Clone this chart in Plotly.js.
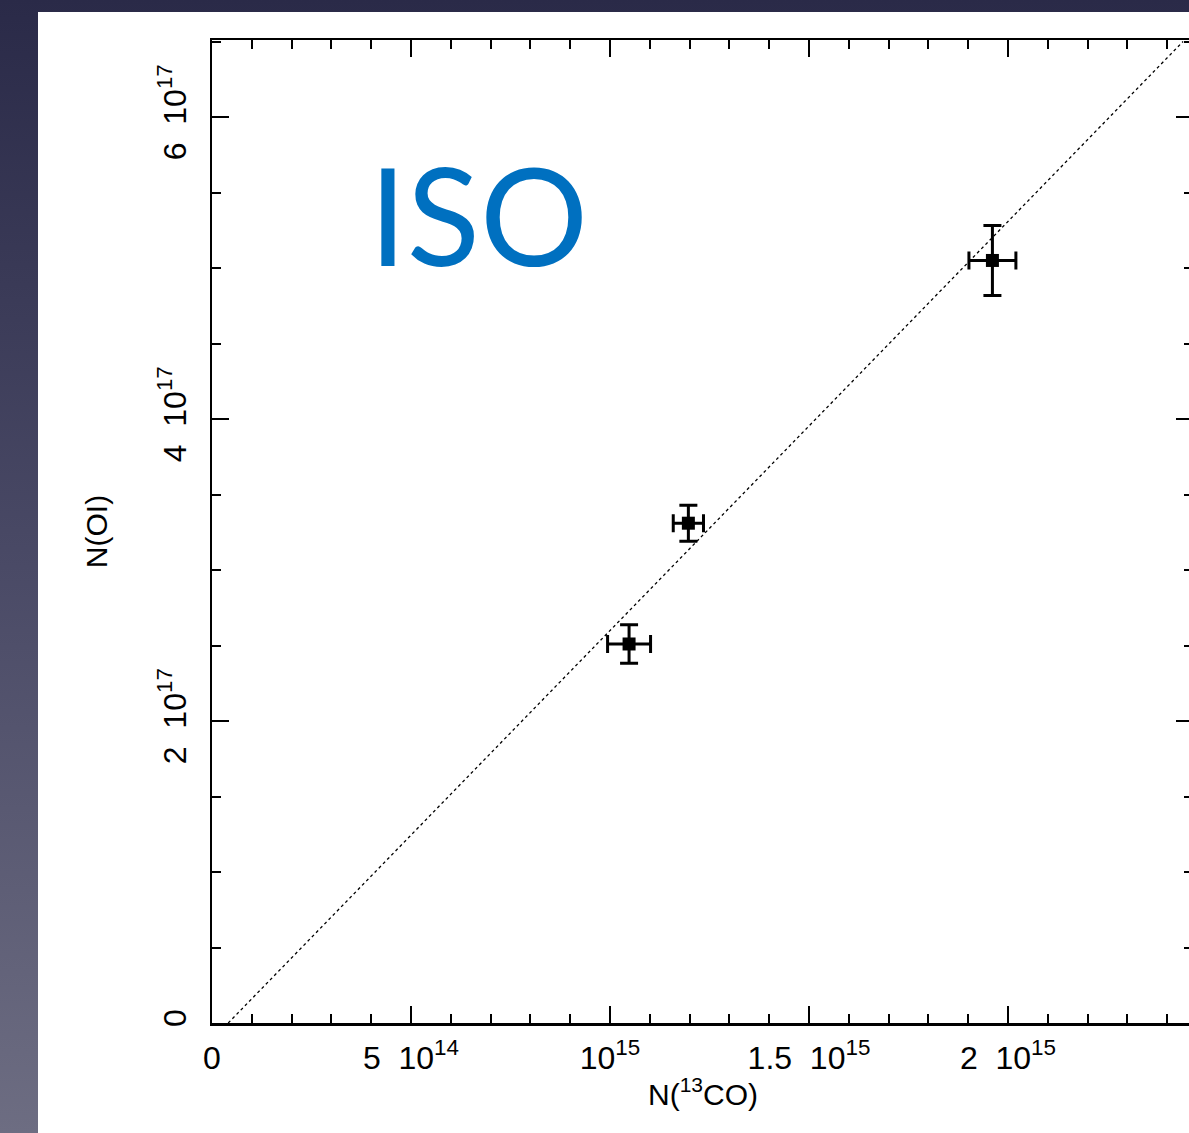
<!DOCTYPE html>
<html>
<head>
<meta charset="utf-8">
<script src="https://cdn.plot.ly/plotly-3.0.1.min.js"></script>
<style>
  html, body { margin: 0; padding: 0; width: 1189px; height: 1133px; overflow: hidden;
    background: linear-gradient(to bottom, #2a2a48 0%, #4a4a66 50%, #6d6d82 100%); }
  #panel { position: absolute; left: 38px; top: 12px; width: 1200px; height: 1121px; background: #ffffff; }
  #chart { position: absolute; left: 0; top: 0; width: 1200px; height: 1121px; }
</style>
</head>
<body>
<div id="panel"><div id="chart"></div></div>
<script>
// Data
const n13co      = [1.048e15, 1.197e15, 1.961e15];   // N(13CO)
const n13coErr   = [0.054e15, 0.038e15, 0.059e15];
const nOI        = [2.51e17, 3.31e17, 5.05e17];     // N(OI)
const nOIErr     = [1.28e16, 1.19e16, 2.32e16];

// dotted relation line
const fitX = [0.0407e15, 2.44e15];
const fitY = [0, 6.50e17];

// tick values and labels
const xTickVals = [0, 5e14, 1e15, 1.5e15, 2e15];
const xTickText = ['0', '5\u00A0\u00A010<sup>14</sup>', '10<sup>15</sup>', '1.5\u00A0\u00A010<sup>15</sup>', '2\u00A0\u00A010<sup>15</sup>'];
const yTickVals = [0, 2e17, 4e17, 6e17];
const yTickText = ['0', '2\u00A0\u00A010<sup>17</sup>', '4\u00A0\u00A010<sup>17</sup>', '6\u00A0\u00A010<sup>17</sup>'];
const xTitle = 'N(<sup>13</sup>CO)';
const yTitle = 'N(OI)';

const font = {family: 'Liberation Sans, Arial, sans-serif', size: 32, color: '#000'};
const titleFont = {family: 'Liberation Sans, Arial, sans-serif', size: 30, color: '#000'};

const traces = [
  {
    x: fitX, y: fitY, mode: 'lines', type: 'scatter',
    line: {color: '#000', width: 1.3, dash: 'dot'}, hoverinfo: 'skip', showlegend: false
  },
  {
    x: n13co, y: nOI, mode: 'markers', type: 'scatter',
    marker: {symbol: 'square', size: 13, color: '#000'},
    error_x: {type: 'data', array: n13coErr, visible: true, color: '#000', thickness: 3, width: 9},
    error_y: {type: 'data', array: nOIErr, visible: true, color: '#000', thickness: 3, width: 9},
    showlegend: false
  }
];

const axisCommon = {
  showline: true, linecolor: '#000', linewidth: 2.5, mirror: 'ticks',
  ticks: 'inside', ticklen: 17, tickwidth: 2, tickcolor: '#000',
  showgrid: false, zeroline: false, tickmode: 'array', tickfont: font
};

const layout = {
  width: 1200, height: 1121,
  margin: {l: 174, r: 45, t: 28, b: 110},
  paper_bgcolor: '#ffffff', plot_bgcolor: '#ffffff',
  font: font,
  showlegend: false,
  xaxis: Object.assign({}, axisCommon, {
    range: [0, 2.465e15],
    tickvals: xTickVals, ticktext: xTickText,
    ticklabelstandoff: 5,
    minor: {dtick: 1e14, tick0: 0, ticks: 'inside', ticklen: 9, tickwidth: 2, tickcolor: '#000', showgrid: false}
  }),
  yaxis: Object.assign({}, axisCommon, {
    range: [0, 6.51e17],
    tickvals: yTickVals, ticktext: yTickText,
    tickangle: -90,
    ticklabelstandoff: 11,
    minor: {dtick: 5e16, tick0: 0, ticks: 'inside', ticklen: 9, tickwidth: 2, tickcolor: '#000', showgrid: false},
    title: {text: yTitle, font: titleFont, standoff: 36}
  }),
  annotations: [
    {
      xref: 'paper', yref: 'paper', x: 0.5, y: -0.0705,
      text: xTitle, showarrow: false, font: titleFont,
      xanchor: 'center', yanchor: 'middle'
    },
    {
      xref: 'paper', yref: 'paper', x: 0.2715, y: 0.823,
      text: 'ISO', showarrow: false,
      font: {family: 'Lato, Noto Sans, sans-serif', size: 135, color: '#0070c0'},
      xanchor: 'center', yanchor: 'middle'
    }
  ]
};

Plotly.newPlot('chart', traces, layout, {staticPlot: true, displayModeBar: false});
</script>
</body>
</html>
